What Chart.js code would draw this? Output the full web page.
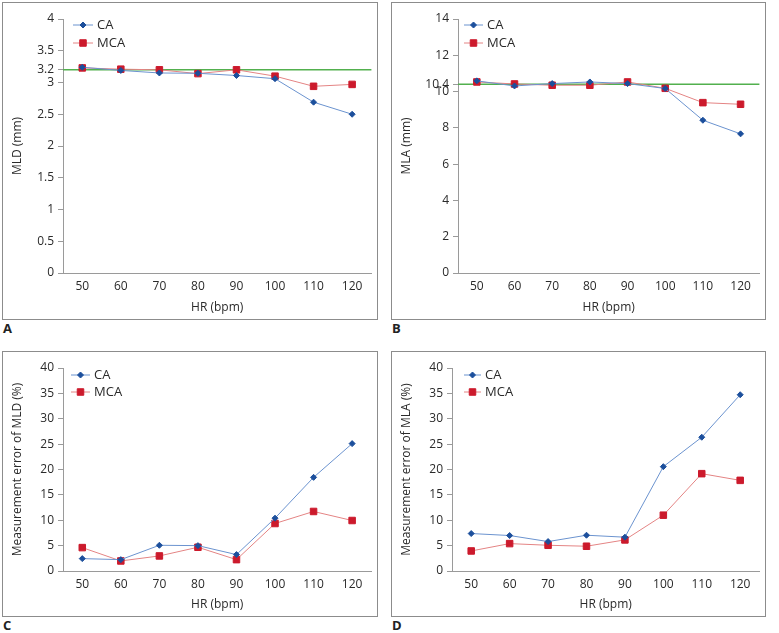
<!DOCTYPE html>
<html><head><meta charset="utf-8">
<script src="https://cdn.jsdelivr.net/npm/chart.js@4/dist/chart.umd.min.js"></script>
<style>
html,body{margin:0;padding:0;background:#fff;width:779px;height:633px;overflow:hidden;}
.box{position:absolute;box-sizing:border-box;border:1px solid #8c8c8c;}
.box canvas{position:absolute;left:0;top:0;}
.lab{position:absolute;font:bold 13px "Open Sans",sans-serif;color:#222;line-height:14px;}
</style></head><body>
<div class="box" style="left:2px;top:2px;width:376px;height:318px"><canvas id="cA" width="374" height="316"></canvas></div>
<div class="box" style="left:391px;top:2px;width:375px;height:318px"><canvas id="cB" width="373" height="316"></canvas></div>
<div class="box" style="left:2px;top:351px;width:376px;height:266px"><canvas id="cC" width="374" height="264"></canvas></div>
<div class="box" style="left:391px;top:351px;width:375px;height:266px"><canvas id="cD" width="373" height="264"></canvas></div>
<div class="lab" style="left:3px;top:321px">A</div>
<div class="lab" style="left:392px;top:321px">B</div>
<div class="lab" style="left:3px;top:618px">C</div>
<div class="lab" style="left:392px;top:618px">D</div>
<script>
const hrCategories = ['50','60','70','80','90','100','110','120'];
const seriesNames = ['CA','MCA'];

const mldCA  = [3.24, 3.19, 3.15, 3.145, 3.11, 3.06, 2.69, 2.50];
const mldMCA = [3.23, 3.21, 3.20, 3.14, 3.20, 3.10, 2.94, 2.97];
const mldReference = 3.2;
const mldTicks = [0, 0.5, 1, 1.5, 2, 2.5, 3, 3.2, 3.5, 4];

const mlaCA  = [10.59, 10.31, 10.44, 10.53, 10.44, 10.17, 8.42, 7.67];
const mlaMCA = [10.53, 10.42, 10.35, 10.35, 10.53, 10.18, 9.39, 9.30];
const mlaReference = 10.4;
const mlaTicks = [0, 2, 4, 6, 8, 10, 10.4, 12, 14];

const errMldCA  = [2.44, 2.24, 5.07, 5.0, 3.23, 10.41, 18.45, 25.1];
const errMldMCA = [4.61, 1.98, 2.97, 4.68, 2.24, 9.36, 11.73, 9.95];
const errMlaCA  = [7.38, 6.99, 5.8, 7.05, 6.66, 20.56, 26.36, 34.73];
const errMlaMCA = [3.95, 5.40, 5.07, 4.88, 6.13, 11.0, 19.18, 17.86];
const errTicks = [0, 5, 10, 15, 20, 25, 30, 35, 40];

const FONT = '"Open Sans", sans-serif';
const TXT = '#2a2a2a';
const AX = '#9a9a9a';

function drawMarker(ctx, style, x, y, r, color) {
  ctx.save();
  ctx.fillStyle = color; ctx.strokeStyle = color; ctx.lineWidth = 1;
  ctx.beginPath();
  if (style === 'rectRot') {
    ctx.moveTo(x, y - r); ctx.lineTo(x + r, y); ctx.lineTo(x, y + r); ctx.lineTo(x - r, y); ctx.closePath();
  } else {
    const s = r * Math.SQRT1_2;
    ctx.rect(x - s, y - s, 2 * s, 2 * s);
  }
  ctx.fill(); ctx.stroke();
  ctx.restore();
}

const insideLegend = {
  id: 'insideLegend',
  afterDraw(chart, args, opts) {
    const ctx = chart.ctx, a = chart.chartArea;
    chart.data.datasets.forEach((ds, i) => {
      const y = a.top + opts.y0 + i * opts.dy;
      const x = a.left + opts.x0;
      ctx.save();
      ctx.strokeStyle = ds.borderColor; ctx.lineWidth = 1;
      ctx.beginPath(); ctx.moveTo(x, y); ctx.lineTo(x + opts.len, y); ctx.stroke();
      drawMarker(ctx, ds.pointStyle, x + opts.len / 2, y, ds.pointRadius, ds.pointBackgroundColor);
      ctx.fillStyle = TXT; ctx.font = '13px ' + FONT; ctx.textBaseline = 'middle'; ctx.textAlign = 'left';
      ctx.fillText(ds.label, x + opts.len + 4, y + 0.5);
      ctx.restore();
    });
  }
};

const refLine = {
  id: 'refLine',
  beforeDatasetsDraw(chart, args, opts) {
    if (opts.value === undefined || opts.value === null) return;
    const a = chart.chartArea, y = chart.scales.y.getPixelForValue(opts.value);
    const ctx = chart.ctx;
    ctx.save(); ctx.strokeStyle = '#52b04e'; ctx.lineWidth = 1.5;
    ctx.beginPath(); ctx.moveTo(a.left, y); ctx.lineTo(a.right, y); ctx.stroke(); ctx.restore();
  }
};

function makeChart(id, ca, mca, ticks, yTitle, ref, yw, xh, padR, leg) {
  const ds = (label, data, line, pt, style, r) => ({
    label, data, borderColor: line, borderWidth: 1, backgroundColor: pt,
    pointBackgroundColor: pt, pointBorderColor: pt, pointBorderWidth: 1,
    pointStyle: style, pointRadius: r, pointHoverRadius: r, tension: 0, fill: false
  });
  new Chart(document.getElementById(id), {
    type: 'line',
    data: {
      labels: hrCategories,
      datasets: [
        ds(seriesNames[0], ca, '#6b93cf', '#1c4f9c', 'rectRot', 3),
        ds(seriesNames[1], mca, '#e48484', '#cc1a2c', 'rect', 4.6)
      ]
    },
    options: {
      responsive: false, animation: false, devicePixelRatio: 1,
      layout: { padding: { top: 16, right: padR, left: 0, bottom: 0 } },
      plugins: {
        legend: { display: false }, tooltip: { enabled: false },
        refLine: { value: ref },
        insideLegend: leg
      },
      scales: {
        x: {
          type: 'category', offset: true,
          grid: { display: true, drawOnChartArea: false, drawTicks: false },
          border: { display: true, color: AX, width: 1 },
          ticks: { padding: 6, color: TXT, font: { family: FONT, size: 12 }, autoSkip: false, maxRotation: 0 },
          title: { display: true, text: 'HR (bpm)', color: TXT, font: { family: FONT, size: 12 }, padding: { top: 0, bottom: 4 } },
          afterFit: s => { s.height = xh; }
        },
        y: {
          min: ticks[0], max: ticks[ticks.length - 1],
          afterBuildTicks: s => { s.ticks = ticks.map(v => ({ value: v })); },
          grid: { display: true, drawOnChartArea: false, drawTicks: true, tickLength: 5, color: AX },
          border: { display: true, color: AX, width: 1 },
          ticks: { padding: 4, color: TXT, font: { family: FONT, size: 12 }, autoSkip: false, callback: v => String(v) },
          title: { display: true, text: yTitle, color: TXT, font: { family: FONT, size: 12 }, padding: { top: 7, bottom: 0 } },
          afterFit: s => { s.width = yw; }
        }
      }
    },
    plugins: [refLine, insideLegend]
  });
}

makeChart('cA', mldCA, mldMCA, mldTicks, 'MLD (mm)', mldReference, 60, 46, 1, { x0: 10, y0: 6, dy: 18, len: 20 });
makeChart('cB', mlaCA, mlaMCA, mlaTicks, 'MLA (mm)', mlaReference, 66, 46, 4, { x0: 6, y0: 6, dy: 18, len: 19 });
makeChart('cC', errMldCA, errMldMCA, errTicks, 'Measurement error of MLD (%)', null, 60, 45, 1, { x0: 8, y0: 7, dy: 17, len: 19 });
makeChart('cD', errMlaCA, errMlaMCA, errTicks, 'Measurement error of MLA (%)', null, 60, 45, 0, { x0: 12, y0: 7, dy: 17, len: 17 });
</script>
</body></html>
